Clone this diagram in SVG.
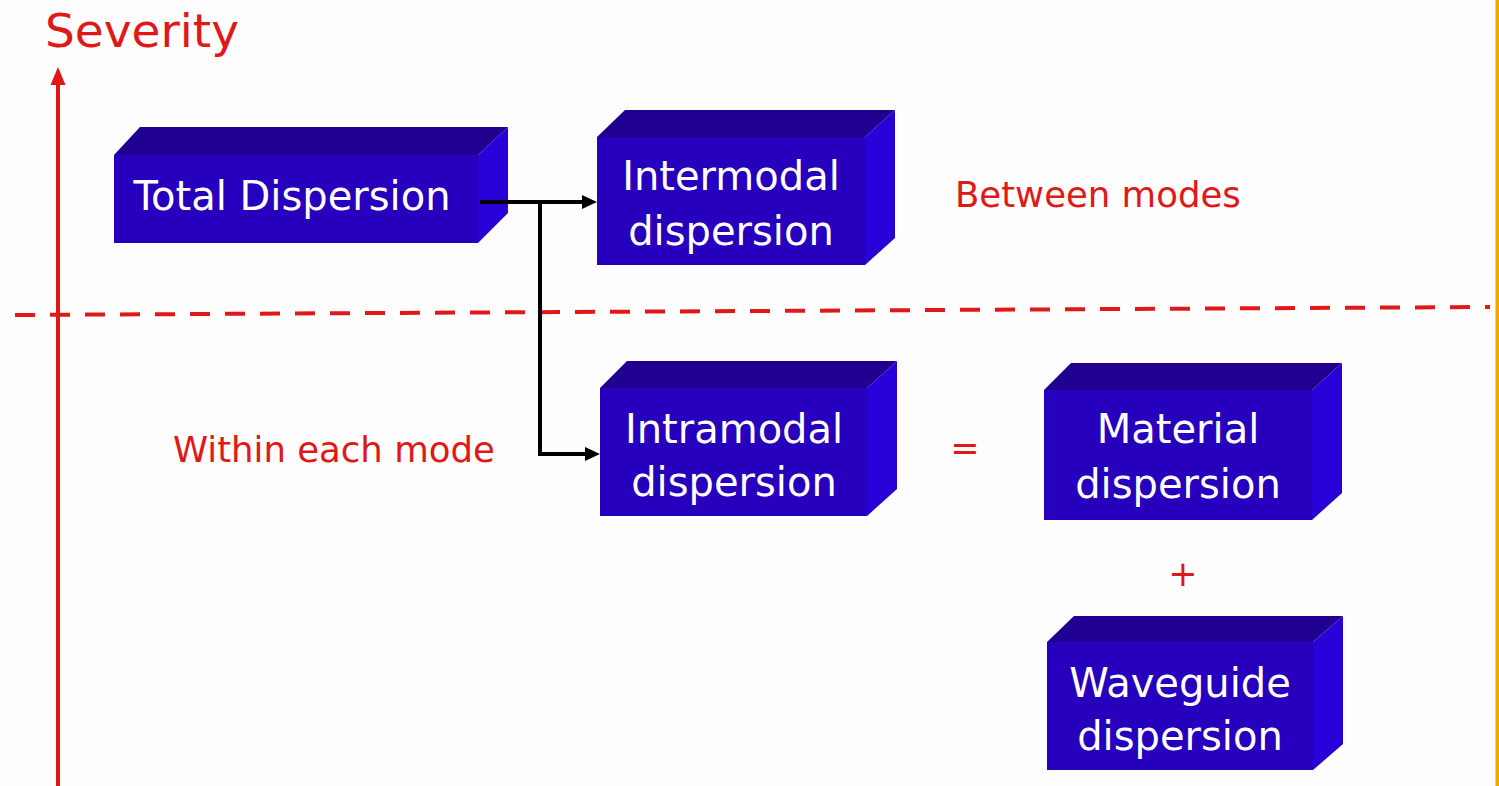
<svg xmlns="http://www.w3.org/2000/svg" width="1499" height="786" viewBox="0 0 1499 786">
<defs>
<style>
.front{fill:#2700BE;}
.top{fill:#1F0090;}
.side{fill:#2A00D8;}
.bt{font-family:"DejaVu Sans",Verdana,sans-serif;font-size:40px;fill:#FFFFFF;text-anchor:middle;}
.red{font-family:"DejaVu Sans",Verdana,sans-serif;fill:#E01818;}
.conn{fill:none;stroke:#000000;stroke-width:4;}
.head{fill:#000000;}
.rhead{fill:#E01818;}
</style>
</defs>
<rect x="0" y="0" width="1499" height="786" fill="#FDFDFD"/>
<rect x="1495.5" y="0" width="3.5" height="786" fill="#F0A800"/>

<g id="axis">
<line x1="58" y1="786" x2="58" y2="82" stroke="#E01818" stroke-width="4"/>
<polygon class="rhead" points="58,67 50.5,85 65.5,85"/>
<text class="red" x="45" y="47" font-size="47">Severity</text>
</g>

<g id="divider">
<line x1="15" y1="315" x2="1490" y2="307" stroke="#E01818" stroke-width="4" stroke-dasharray="20 15"/>
</g>

<g id="total">
<polygon class="top" points="114,155 140,127 508,127 478,155"/>
<polygon class="side" points="478,155 508,127 508,213 478,243"/>
<rect class="front" x="114" y="155" width="364" height="88"/>
<text class="bt" x="292" y="210">Total Dispersion</text>
</g>

<g id="intermodal">
<polygon class="top" points="597,137 625,110 895,110 865,137"/>
<polygon class="side" points="865,137 895,110 895,238 865,265"/>
<rect class="front" x="597" y="137" width="268" height="128"/>
<text class="bt" x="731" y="190">Intermodal</text>
<text class="bt" x="731" y="245">dispersion</text>
</g>

<g id="intramodal">
<polygon class="top" points="600,388 627,361 897,361 867,388"/>
<polygon class="side" points="867,388 897,361 897,489 867,516"/>
<rect class="front" x="600" y="388" width="267" height="128"/>
<text class="bt" x="734" y="443">Intramodal</text>
<text class="bt" x="734" y="496">dispersion</text>
</g>

<g id="material">
<polygon class="top" points="1044,390 1071,363 1342,363 1312,390"/>
<polygon class="side" points="1312,390 1342,363 1342,493 1312,520"/>
<rect class="front" x="1044" y="390" width="268" height="130"/>
<text class="bt" x="1178" y="443">Material</text>
<text class="bt" x="1178" y="498">dispersion</text>
</g>

<g id="waveguide">
<polygon class="top" points="1047,642 1074,616 1343,616 1313,642"/>
<polygon class="side" points="1313,642 1343,616 1343,744 1313,770"/>
<rect class="front" x="1047" y="642" width="266" height="128"/>
<text class="bt" x="1180" y="697">Waveguide</text>
<text class="bt" x="1180" y="750">dispersion</text>
</g>

<g id="labels">
<text class="red" x="955" y="207" font-size="35.5">Between modes</text>
<text class="red" x="173" y="462" font-size="35.5">Within each mode</text>
<text class="red" x="965" y="460" font-size="35" text-anchor="middle">=</text>
<text class="red" x="1183" y="586" font-size="35" text-anchor="middle">+</text>
</g>

<g id="connectors">
<path class="conn" d="M480,202 H585"/>
<polygon class="head" points="597,202 582,195 582,209"/>
<path class="conn" d="M540,202 V454 H588"/>
<polygon class="head" points="600,454 585,447 585,461"/>
</g>
</svg>
